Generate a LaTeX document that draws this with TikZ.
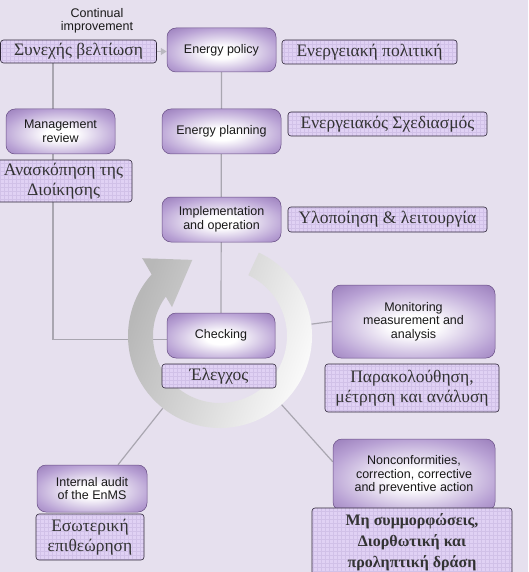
\documentclass[tikz,border=0pt]{standalone}
\usepackage{fontspec}
\setmainfont{Liberation Serif}
\setsansfont{Liberation Sans}
\usetikzlibrary{arrows.meta}
\definecolor{bgc}{HTML}{E6E0EE}
\definecolor{pdark}{HTML}{8363A8}
\definecolor{pmid}{HTML}{B8A1D4}
\definecolor{gfill}{HTML}{E0D1F4}
\definecolor{ggrid}{HTML}{D1C1E8}
\definecolor{gborder}{HTML}{2E2638}
\definecolor{lnc}{HTML}{A9A6B0}
\pgfdeclareradialshading{glow}{\pgfpoint{0bp}{-3bp}}{color(0bp)=(white); color(7bp)=(white); color(27bp)=(pmid); color(44bp)=(pdark); color(75bp)=(pdark)}
\pgfdeclarelayer{back}
\pgfdeclarelayer{lines}
\pgfsetlayers{back,lines,main}
\tikzset{
  pbox/.style={draw=pdark!80!black, line width=0.5pt, rounded corners=9pt, shading=glow,
    font=\sffamily\fontsize{12.5}{13.5}\selectfont, text=black!90, align=center, inner sep=0pt},
  gbox/.style={draw=gborder, line width=0.6pt, rounded corners=3pt, fill=gfill,
    font=\fontsize{17.5}{20}\selectfont, text=black!80, align=center, inner sep=0pt,
    path picture={\draw[ggrid, line width=0.3pt, step=4pt] (path picture bounding box.south west) grid (path picture bounding box.north east);}},
  conn/.style={draw=lnc, line width=1.2pt},
  lbl/.style={font=\sffamily\fontsize{12.5}{13.5}\selectfont, text=black!90, align=center, inner sep=0pt}
}
\begin{document}
\begin{tikzpicture}[x=1pt,y=-1pt]
\useasboundingbox (0,0) rectangle (528,572);
\begin{pgfonlayer}{back}
\fill[bgc] (0,0) rectangle (528,572);
\end{pgfonlayer}
\clip (0,0) rectangle (528,572);
% ring arrow
\node[circle, minimum size=184pt, inner sep=0pt] (ring) at (220,336) {};
\begin{scope}[shift={(220,336)}]
\shade[left color=black!28, right color=white, shading angle=70]
  (-65:92) arc[start angle=-65, end angle=222, radius=92]
  -- (225:110) -- (250:81) -- (211:56) -- (216:67)
  arc[start angle=216, end angle=-65, radius=67] -- cycle;
\end{scope}
% process boxes
\node[pbox, minimum width=109pt, minimum height=44pt] (pol) at (221.5,50) {Energy policy};
\node[pbox, minimum width=119pt, minimum height=45pt] (plan) at (221.5,131.5) {Energy planning};
\node[pbox, minimum width=119pt, minimum height=45pt] (imp) at (221.5,219.5) {Implementation\\and operation};
\node[pbox, minimum width=108pt, minimum height=45pt] (chk) at (221,335.5) {Checking};
\node[pbox, minimum width=109pt, minimum height=45pt] (mgr) at (60.5,131.5) {Management\\review};
\node[pbox, minimum width=163pt, minimum height=73pt] (mon) at (413.5,321.5) {Monitoring\\measurement and\\analysis};
\node[pbox, minimum width=110pt, minimum height=47pt] (aud) at (92,488.5) {Internal audit\\of the EnMS};
\node[pbox, minimum width=162pt, minimum height=72pt] (ncr) at (414,475) {Nonconformities,\\correction, corrective\\and preventive action};
% labels
\node[lbl] (ci) at (97,21) {Continual\\improvement};
\node[gbox, minimum width=156pt, minimum height=23pt] (cont) at (78.5,51.5) {Συνεχής βελτίωση};
\node[gbox, minimum width=175pt, minimum height=24pt] (polg) at (369.5,52) {Ενεργειακή πολιτική};
\node[gbox, minimum width=137pt, minimum height=42pt] (mgrg) at (63.5,181) {Ανασκόπηση της\\Διοίκησης};
\node[gbox, minimum width=199pt, minimum height=24pt] (plang) at (387.5,124) {Ενεργειακός Σχεδιασμός};
\node[gbox, minimum width=199pt, minimum height=25pt] (impg) at (387.5,219.5) {Υλοποίηση \& λειτουργία};
\node[gbox, minimum width=114pt, minimum height=24pt] (chkg) at (219,376) {Έλεγχος};
\node[gbox, minimum width=174pt, minimum height=48pt] (mong) at (412,388) {Παρακολούθηση,\\μέτρηση και ανάλυση};
\node[gbox, minimum width=108pt, minimum height=46pt] (audg) at (90,537) {Εσωτερική\\επιθεώρηση};
\node[gbox, minimum width=200pt, minimum height=68pt, font=\bfseries\fontsize{16}{21}\selectfont] (ncrg) at (412,542) {Μη συμμορφώσεις,\\Διορθωτική και\\προληπτική δράση};
% connectors
\begin{pgfonlayer}{lines}
\draw[conn] (pol) -- (chk);
\draw[conn] ([xshift=-25.5pt]cont.south) |- ([yshift=-4pt]chk.center);
\draw[conn] (ring) -- (mon.west);
\draw[conn] (ring) -- ([xshift=26pt]aud.north);
\draw[conn] (ring) -- ([yshift=-23pt]ncr.north west);
\end{pgfonlayer}
\draw[conn, draw=lnc!80!white, -{Triangle[length=6pt,width=7pt]}] (cont.east) -- (cont.east -| pol.west);
\end{tikzpicture}
\end{document}
